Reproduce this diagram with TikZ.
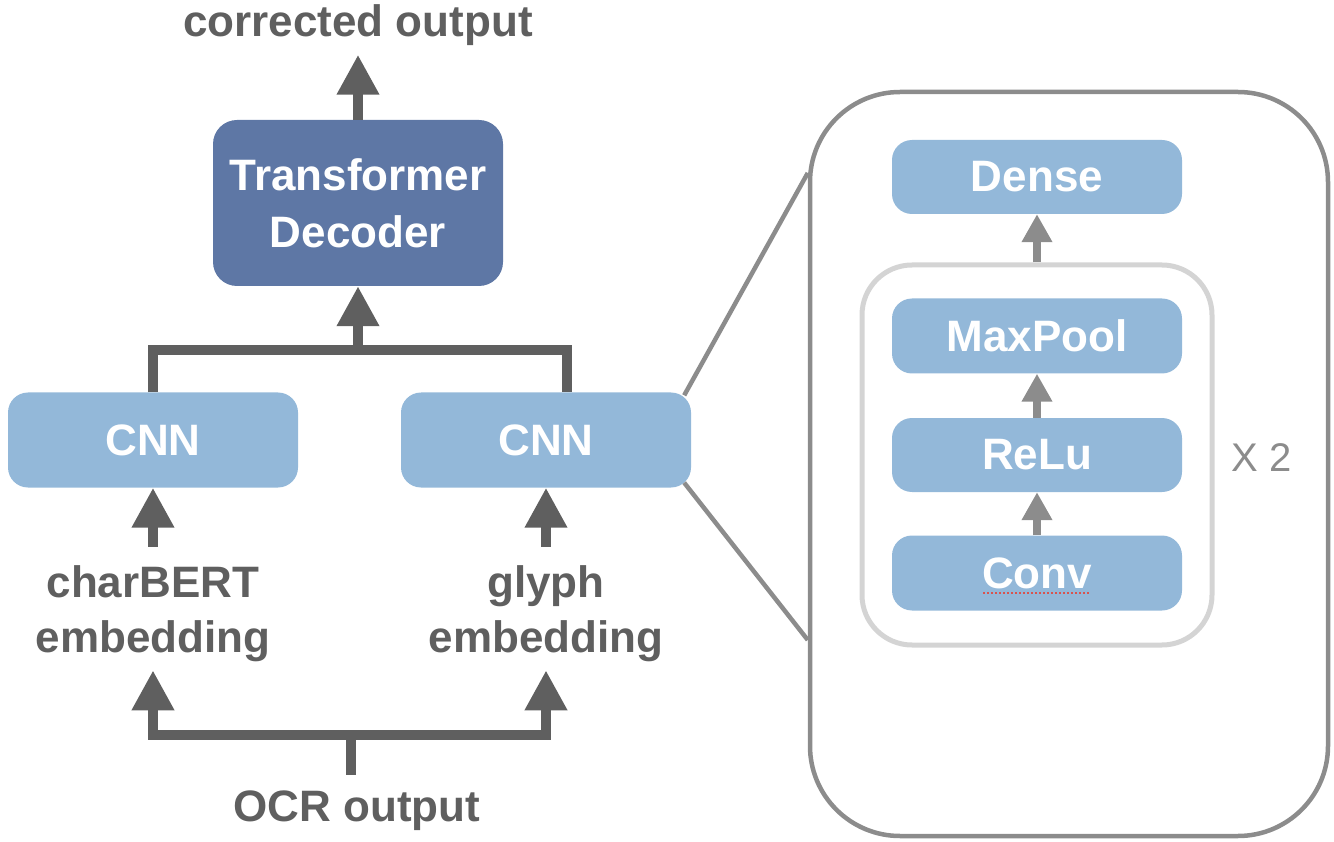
\documentclass[tikz,border=0pt]{standalone}
\usepackage{fontspec}
\setmainfont{Liberation Sans}
\usetikzlibrary{arrows.meta}
\definecolor{dg}{HTML}{5F5F5F}
\definecolor{tdblue}{HTML}{5E77A5}
\definecolor{lblue}{HTML}{93B8D9}
\definecolor{mg}{HTML}{8C8C8C}
\definecolor{lg}{HTML}{D4D4D4}
\definecolor{spell}{HTML}{D9534F}
\begin{document}
\begin{tikzpicture}[x=1pt,y=-1pt,
  bigfont/.style={font=\fontsize{44}{55}\selectfont\bfseries},
  label/.style={bigfont, text=dg, inner sep=0pt, align=center},
  bluebox/.style={rounded corners=20pt, fill=lblue, text=white, bigfont, minimum width=290pt, inner sep=0pt},
  bigline/.style={draw=dg, line width=10pt, line join=miter},
  bigarr/.style={bigline, -{Triangle[length=40pt,width=40pt]}},
  smallarr/.style={draw=mg, line width=8pt, -{Triangle[length=28pt,width=29pt]}},
  zoomline/.style={draw=mg, line width=4.5pt}
]
\useasboundingbox (0,0) rectangle (1334,842);

% right panel frames
\node[draw=mg, line width=4.5pt, rounded corners=90pt, minimum width=518pt, minimum height=744pt] (zoom) at (1069,464) {};
\node[draw=lg, line width=5pt, rounded corners=50pt, minimum width=350pt, minimum height=380pt] (rep) at (1037,455) {};

% left column
\node[label] (out) at (358,25) {corrected output};
\node[bluebox, fill=tdblue, minimum height=166pt, rounded corners=24pt, align=center, font=\fontsize{44}{57}\selectfont\bfseries] (td) at (358,203) {Transformer\\Decoder};
\node[bluebox, minimum height=95pt] (cnnL) at (153,440) {CNN};
\node[bluebox, minimum height=95pt] (cnnR) at (546,440) {CNN};
\node[label] (embL) at (153,614) {charBERT\\embedding};
\node[label] (embR) at (546,614) {glyph\\embedding};
\node[label] (ocr) at (357,811) {OCR output};

% right column
\node[bluebox, minimum height=74pt] (dense) at (1037,177) {Dense};
\node[bluebox, minimum height=75pt] (maxpool) at (1037,336) {MaxPool};
\node[bluebox, minimum height=74pt] (relu) at (1037,455) {ReLu};
\node[bluebox, minimum height=75pt] (conv) at (1037,573) {Conv};
\node[text=mg, font=\fontsize{40}{48}\selectfont, inner sep=0pt] (x2) at (1262,458) {X 2};

% spell-check underline
\draw[spell, line width=2pt, dash pattern=on 2pt off 2pt] ([xshift=-54pt,yshift=-20pt]conv.center) -- ([xshift=53pt,yshift=-20pt]conv.center);

% coordinates
\coordinate (jt) at (358,350);
\coordinate (jb) at (351,735);

% connectors
\draw[bigarr] (td.north) -- ([yshift=-9pt]out.south);
\draw[bigline] (cnnL.north) |- (jt) -| ([xshift=21pt]cnnR.north);
\draw[bigarr] (jt) -- (td.south);
\draw[bigarr] ([yshift=19pt]embL.north) -- (cnnL.south);
\draw[bigarr] ([yshift=19pt]embR.north) -- (cnnR.south);
\draw[bigline, shorten >=16pt] (jb) -- (jb |- ocr.north);
\draw[bigarr] (jb) -| ([yshift=-8pt]embL.south);
\draw[bigarr] (jb) -| ([yshift=-8pt]embR.south);

% small arrows
\draw[smallarr] (rep.north) -- (dense.south);
\draw[smallarr] (relu.north) -- (maxpool.south);
\draw[smallarr] (conv.north) -- (relu.south);

% zoom lines
\draw[zoomline] ([xshift=-7pt,yshift=-3pt]cnnR.north east) -- ([yshift=291pt]zoom.west);
\draw[zoomline] ([xshift=-7pt,yshift=5pt]cnnR.south east) -- ([yshift=-176pt]zoom.west);
\end{tikzpicture}
\end{document}
